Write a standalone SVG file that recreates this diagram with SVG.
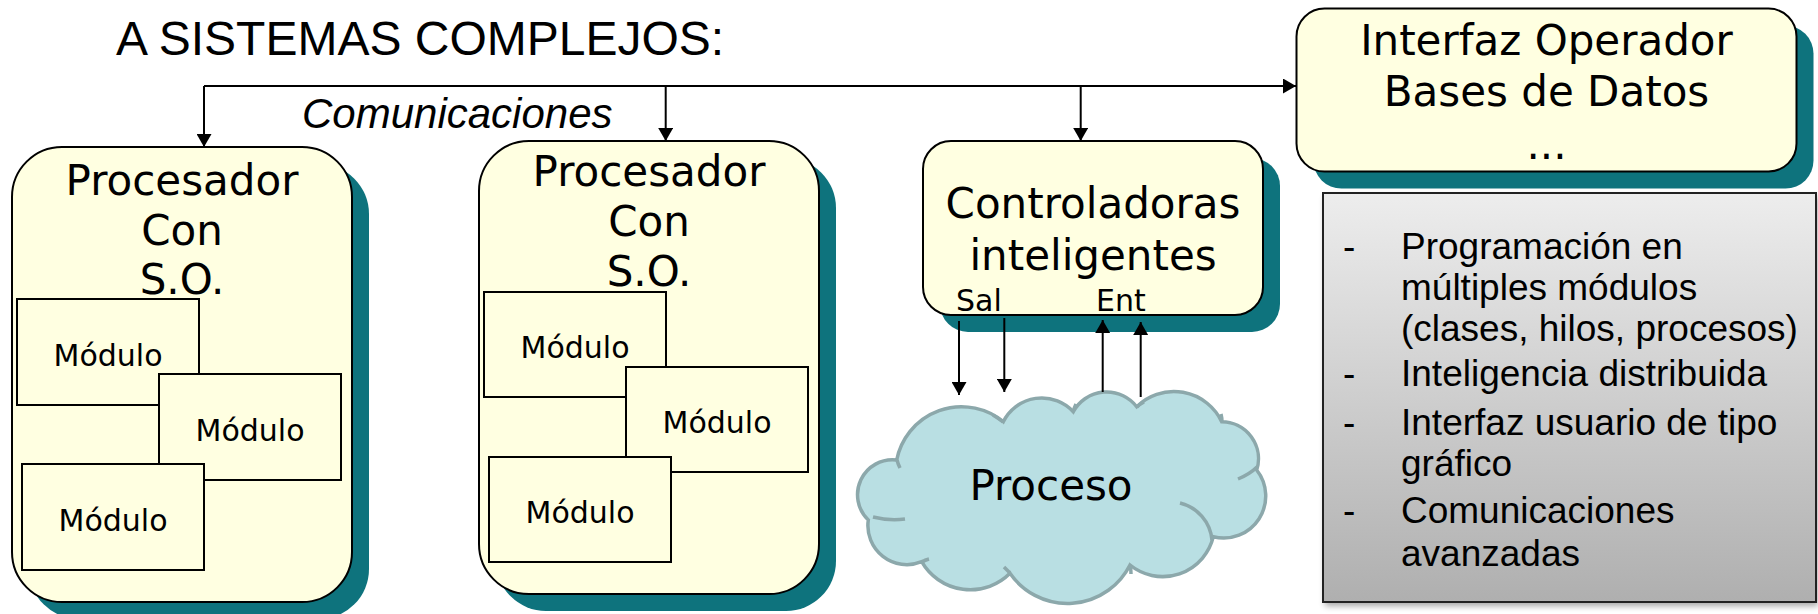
<svg xmlns="http://www.w3.org/2000/svg" width="1818" height="614" viewBox="0 0 1818 614">
<defs>
<marker id="ah" viewBox="0 0 10 10" refX="10" refY="5" markerWidth="13" markerHeight="15" markerUnits="userSpaceOnUse" orient="auto" preserveAspectRatio="none"><path d="M0,0 L10,5 L0,10 Z" fill="#000"/></marker>
<linearGradient id="gray" x1="0" y1="0" x2="0" y2="1"><stop offset="0" stop-color="#EDEDED"/><stop offset="1" stop-color="#AFAFAF"/></linearGradient>
<filter id="blur" x="-5%" y="-5%" width="110%" height="115%"><feGaussianBlur stdDeviation="3"/></filter>
</defs>
<style>
.shadow{fill:#0E737D}
.box{fill:#FFFFE1;stroke:#000;stroke-width:2}
.mod{fill:#FFFFE1;stroke:#000;stroke-width:2}
.big{font-family:"DejaVu Sans",Verdana,sans-serif;font-size:42px;fill:#000;text-anchor:middle}
.mt{font-family:"DejaVu Sans",Verdana,sans-serif;font-size:30px;fill:#000;text-anchor:middle}
.io{font-family:"DejaVu Sans",Verdana,sans-serif;font-size:30px;fill:#000}
.conn{stroke:#000;stroke-width:2;fill:none}
.cloud{fill:#B9DFE3;stroke:#8CA8AB;stroke-width:3.5}
.crease{fill:none;stroke:#8CA8AB;stroke-width:3.5}
.li{font-family:"Liberation Sans",Arial,sans-serif;font-size:37px;fill:#000}
</style>
<rect width="1818" height="614" fill="#FFFFFF"/>

<text id="title" x="116" y="55" font-family="'Liberation Sans',Arial,sans-serif" font-size="48" fill="#000">A SISTEMAS COMPLEJOS:</text>

<g id="proc1">
<rect class="shadow" x="29" y="164" width="340" height="455" rx="50"/>
<rect class="box" x="12" y="147" width="340" height="455" rx="50"/>
<text class="big" x="182" y="195">Procesador</text>
<text class="big" x="182" y="245">Con</text>
<text class="big" x="182" y="294">S.O.</text>
<rect class="mod" x="17" y="299" width="182" height="106"/>
<text class="mt" x="108" y="366">Módulo</text>
<rect class="mod" x="159" y="374" width="182" height="106"/>
<text class="mt" x="250" y="441">Módulo</text>
<rect class="mod" x="22" y="464" width="182" height="106"/>
<text class="mt" x="113" y="531">Módulo</text>
</g>

<g id="proc2">
<rect class="shadow" x="496" y="158" width="340" height="453" rx="50"/>
<rect class="box" x="479" y="141" width="340" height="453" rx="50"/>
<text class="big" x="649" y="186">Procesador</text>
<text class="big" x="649" y="236">Con</text>
<text class="big" x="649" y="286">S.O.</text>
<rect class="mod" x="484" y="292" width="182" height="105"/>
<text class="mt" x="575" y="358">Módulo</text>
<rect class="mod" x="626" y="367" width="182" height="105"/>
<text class="mt" x="717" y="433">Módulo</text>
<rect class="mod" x="489" y="457" width="182" height="105"/>
<text class="mt" x="580" y="523">Módulo</text>
</g>

<g id="ctrl">
<rect class="shadow" x="940" y="158" width="340" height="174" rx="28"/>
<rect class="box" x="923" y="141" width="340" height="174" rx="28"/>
<text class="big" x="1093" y="218">Controladoras</text>
<text class="big" x="1093" y="270">inteligentes</text>
<text class="io" x="956" y="311">Sal</text>
<text class="io" x="1096" y="311">Ent</text>
</g>

<g id="proceso">
<path class="cloud" d="M896.7,460 A66 66 0 0 1 1003.3,421.7 A43 43 0 0 1 1073.3,411.7 A38 38 0 0 1 1136.7,406.7 A53 53 0 0 1 1221.7,421.7 A37 37 0 0 1 1256.7,470 A42 42 0 0 1 1213.3,536.7 A52 52 0 0 1 1130,565 A70 70 0 0 1 1010,573.3 A56 56 0 0 1 921.7,561.7 A39 39 0 0 1 868.3,520 A35 35 0 0 1 896.7,460 Z"/>
<path class="crease" d="M1180,503 A42 42 0 0 1 1212,540 M873,517 Q889,521 905,519 M1238,479 Q1250,474 1257,467 M1003,422 Q998,418 993,415 M1073,412 Q1074,408 1076,404 M1137,407 Q1140,404 1144,402 M1222,422 Q1222,418 1221,414 M1130,565 Q1131,569 1131,574 M1010,573 Q1007,570 1004,567 M922,562 Q925,560 929,559 M897,460 Q898,464 900,468"/>
<text class="big" x="1051" y="500">Proceso</text>
</g>

<g id="interfaz">
<rect class="shadow" x="1313.5" y="25.6" width="500" height="163" rx="28"/>
<rect class="box" x="1296.5" y="8.6" width="500" height="163" rx="28"/>
<text class="big" x="1546.5" y="55" font-size="43">Interfaz Operador</text>
<text class="big" x="1546.5" y="106" font-size="43">Bases de Datos</text>
<text class="big" x="1546.5" y="159" font-size="43">...</text>
</g>

<g id="notas">
<rect x="1325" y="197" width="493" height="409" fill="#000" opacity="0.35" filter="url(#blur)"/>
<rect x="1323" y="193" width="493" height="409" fill="url(#gray)" stroke="#222" stroke-width="2"/>
<text class="li" x="1343" y="259">-</text>
<text class="li" x="1401" y="259">Programación en</text>
<text class="li" x="1401" y="300">múltiples módulos</text>
<text class="li" x="1401" y="341">(clases, hilos, procesos)</text>
<text class="li" x="1343" y="386">-</text>
<text class="li" x="1401" y="386">Inteligencia distribuida</text>
<text class="li" x="1343" y="435">-</text>
<text class="li" x="1401" y="435">Interfaz usuario de tipo</text>
<text class="li" x="1401" y="476">gráfico</text>
<text class="li" x="1343" y="523">-</text>
<text class="li" x="1401" y="523">Comunicaciones</text>
<text class="li" x="1401" y="566">avanzadas</text>
</g>

<g id="connectors">
<path class="conn" d="M204,86 H1296" marker-end="url(#ah)"/>
<path class="conn" d="M204,86 V147" marker-end="url(#ah)"/>
<path class="conn" d="M665.7,86 V141" marker-end="url(#ah)"/>
<path class="conn" d="M1080.7,86 V141" marker-end="url(#ah)"/>
<path class="conn" d="M959,321 V395" marker-end="url(#ah)"/>
<path class="conn" d="M1004.3,318 V392" marker-end="url(#ah)"/>
<path class="conn" d="M1102.7,392 V320" marker-end="url(#ah)"/>
<path class="conn" d="M1140.7,397 V322" marker-end="url(#ah)"/>
<text x="302" y="128" font-family="'Liberation Sans',Arial,sans-serif" font-size="42" font-style="italic" fill="#000">Comunicaciones</text>
</g>
</svg>
